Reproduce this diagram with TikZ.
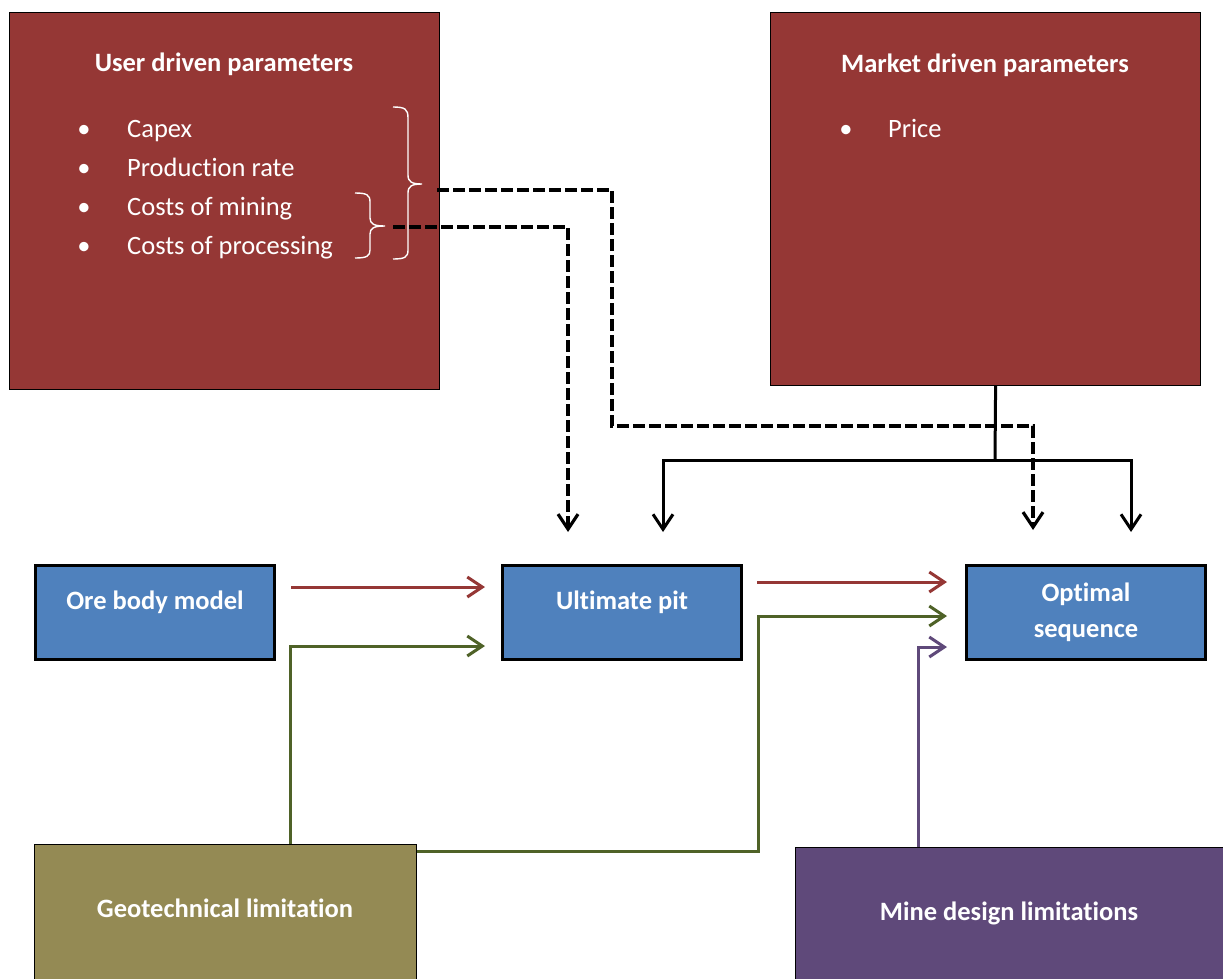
\documentclass[tikz,border=0pt]{standalone}
\usepackage{fontspec}
\setmainfont{Carlito}[Ligatures=NoCommon]
\usetikzlibrary{arrows.meta}

\definecolor{paramred}{HTML}{953735}
\definecolor{stageblue}{HTML}{4F81BD}
\definecolor{geoolive}{HTML}{948A54}
\definecolor{minepurple}{HTML}{5F497A}
\definecolor{flowred}{HTML}{953735}
\definecolor{flowgreen}{HTML}{4F6228}

\tikzset{
  txt/.style={font=\fontsize{26.5pt}{32pt}\selectfont, text=white, inner sep=0pt},
  title/.style={txt, font=\fontsize{26.5pt}{32pt}\selectfont\bfseries, anchor=base},
  item/.style={txt, anchor=base west},
  dot/.style={txt, anchor=base},
  parambox/.style={draw=black, line width=1.2pt, fill=paramred, anchor=north west,
    inner sep=0pt, minimum width=430pt},
  stagebox/.style={draw=black, line width=3pt, fill=stageblue, inner sep=0pt,
    minimum width=239pt, minimum height=94pt},
  limitbox/.style={draw=black, line width=1pt, anchor=north west, inner sep=0pt,
    minimum height=170pt},
  tip/.style={-{Straight Barb[length=15pt,width=20pt]}},
  flow/.style={tip, line width=3pt},
  feed/.style={line width=3pt, black},
  dashfeed/.style={line width=3.2pt, black, dash pattern=on 12pt off 4pt},
  bracket/.style={draw=white, line width=1.4pt},
}

\begin{document}
\begin{tikzpicture}[x=1pt,y=-1pt]
\useasboundingbox (0,0) rectangle (1223,978);

% parameter boxes
\node[parambox, minimum height=377pt] (user) at (9,12) {};
\node[parambox, minimum height=373pt] (market) at (770,12) {};

\node[title] (usertitle) at (224,71) {User driven parameters};
\node[dot] (b1) at (84,137) {•};
\node[dot] (b2) at (84,176) {•};
\node[dot] (b3) at (84,215) {•};
\node[dot] (b4) at (84,254) {•};
\node[item] (capex) at (127,137) {Capex};
\node[item] (prod) at (127,176) {Production rate};
\node[item] (mining) at (127,215) {Costs of mining};
\node[item] (processing) at (127,254) {Costs of processing};

\node[title] (markettitle) at (985,72) {Market driven parameters};
\node[dot] (b5) at (846,137) {•};
\node[item] (price) at (888,137) {Price};

% braces grouping the cost items
\draw[bracket] (393,107) .. controls (405,107) and (408,109) .. (408,118)
  -- (408,175) .. controls (408,182) and (412,184) .. (422,184)
  .. controls (412,184) and (408,186) .. (408,193)
  -- (408,250) .. controls (408,257) and (405,259) .. (393,259);
\draw[bracket] (355,193) .. controls (367,193) and (370,195) .. (370,202)
  -- (370,218) .. controls (370,224) and (374,226) .. (385,226)
  .. controls (374,226) and (370,228) .. (370,234)
  -- (370,250) .. controls (370,256) and (367,258) .. (355,258);
\coordinate (allcosts) at (437,190);
\coordinate (opcosts) at (393,227);

% planning stages
\node[stagebox] (ore) at (155,612) {};
\node[stagebox] (ult) at (622,612) {};
\node[stagebox] (opt) at (1086,612) {};
\node[title] (oretext) at (155,609) {Ore body model};
\node[title] (ulttext) at (622,609) {Ultimate pit};
\node[title] (opttext1) at (1086,601) {Optimal};
\node[title] (opttext2) at (1086,637) {sequence};

% limitation boxes
\node[limitbox, fill=geoolive, minimum width=382pt] (geo) at (34,844) {};
\node[limitbox, fill=minepurple, minimum width=432pt] (mine) at (795,847) {};
\node[title] (geotext) at (225,917) {Geotechnical limitation};
\node[title] (minetext) at (1009,920) {Mine design limitations};

% market parameters feed both stages
\coordinate (mkjoin) at (995,460);
\draw[feed] ([xshift=10pt]market.south) -- (mkjoin);
\draw[feed, tip] (mkjoin) -| ([xshift=41pt,yshift=31.5pt]ult.north);
\draw[feed, tip] (mkjoin) -| ([xshift=45pt,yshift=31.5pt]opt.north);

% user parameters feed both stages
\coordinate (costturn) at (612,426);
\draw[dashfeed, tip] (allcosts) -| (costturn) -| ([xshift=-53pt,yshift=33.5pt]opt.north);
\draw[dashfeed, tip] (opcosts) -| ([xshift=-54pt,yshift=31.5pt]ult.north);

% stage to stage
\draw[flow, flowred] ([xshift=15pt,yshift=25pt]ore.east) -- ([xshift=-16pt,yshift=25pt]ult.west);
\draw[flow, flowred] ([xshift=14pt,yshift=30pt]ult.east) -- ([xshift=-18pt,yshift=30pt]opt.west);

% limitations
\coordinate (geobend) at (758,616);
\draw[flow, flowgreen] ([xshift=65pt]geo.north) |- ([xshift=-16pt,yshift=-34pt]ult.west);
\draw[flow, flowgreen] ([yshift=-7pt]geo.north east) -| (geobend) -- ([xshift=-18pt,yshift=-4pt]opt.west);
\draw[flow, minepurple] ([xshift=-93pt]mine.north) |- ([xshift=-18pt,yshift=-35pt]opt.west);
\end{tikzpicture}
\end{document}
